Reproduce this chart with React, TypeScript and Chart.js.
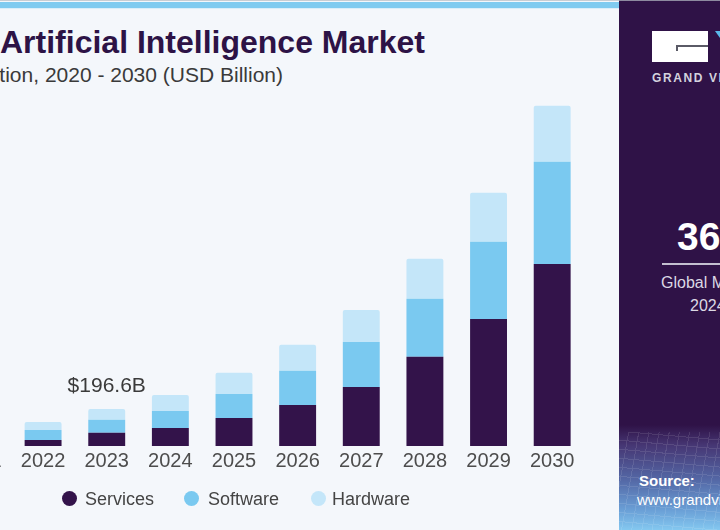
import React, { useEffect, useRef } from "react";
import { Chart, registerables } from "chart.js";

Chart.register(...registerables);

const years = ["2020", "2021", "2022", "2023", "2024", "2025", "2026", "2027", "2028", "2029", "2030"];
const services = [14, 22, 32, 70, 96, 149, 218, 313, 473, 674, 966];
const software = [26, 38, 53, 69, 90, 127, 181, 239, 308, 409, 542];
const hardware = [22, 33, 42, 57.6, 85, 112, 138, 170, 212, 260, 297];
const seriesNames = ["Services", "Software", "Hardware"];
const seriesColors = ["#33134a", "#7ac9f0", "#c4e6f9"];
const calloutIndex = 3;
const calloutText = "$196.6B";
const yMax = 2000;

const FONT = '"Liberation Sans", Arial, sans-serif';

const calloutPlugin = {
  id: "callout",
  afterDatasetsDraw(chart: any) {
    const meta = chart.getDatasetMeta(2);
    const bar = meta.data[calloutIndex];
    if (!bar) return;
    const ctx = chart.ctx;
    ctx.save();
    ctx.font = `21px ${FONT}`;
    ctx.fillStyle = "#3a3a3a";
    ctx.textAlign = "center";
    ctx.textBaseline = "middle";
    ctx.fillText(calloutText, bar.x, bar.y - 23);
    ctx.restore();
  },
};

function Text(props: { left?: number; right?: number; top: number; size: number; bold?: boolean; color: string; children: any; spacing?: number }) {
  const s: any = {
    position: "absolute",
    top: props.top,
    fontFamily: FONT,
    fontSize: props.size,
    fontWeight: props.bold ? 700 : 400,
    color: props.color,
    lineHeight: 1,
    whiteSpace: "nowrap",
    letterSpacing: props.spacing ? props.spacing : 0,
  };
  if (props.right !== undefined) {
    s.right = 720 - props.right;
    s.textAlign = "right";
  } else s.left = props.left;
  return <div style={s}>{props.children}</div>;
}

export default function App() {
  const ref = useRef<HTMLCanvasElement>(null);
  useEffect(() => {
    const chart = new Chart(ref.current!, {
      type: "bar",
      data: {
        labels: years,
        datasets: [services, software, hardware].map((d, i) => ({
          label: seriesNames[i],
          data: d,
          backgroundColor: seriesColors[i],
          barPercentage: 0.58,
          categoryPercentage: 1,
          borderRadius: i === 2 ? { topLeft: 2, topRight: 2, bottomLeft: 0, bottomRight: 0 } : 0,
          borderSkipped: false as any,
        })),
      },
      options: {
        responsive: false,
        maintainAspectRatio: false,
        animation: false,
        layout: { padding: { left: 0, right: 100, top: 69, bottom: 44 } },
        plugins: { legend: { display: false }, tooltip: { enabled: false } },
        scales: {
          x: {
            stacked: true,
            grid: { display: false, drawTicks: false },
            border: { display: false },
            ticks: { color: "#4d4d4d", font: { family: FONT, size: 20 }, padding: 3, maxRotation: 0, autoSkip: false },
            afterFit: (s: any) => {
              s.height = 40;
            },
          },
          y: { stacked: true, display: false, min: 0, max: yMax },
        },
      },
      plugins: [calloutPlugin],
    });
    return () => chart.destroy();
  }, []);

  const legendX = [62, 184, 311];
  const legendTextX = [85, 208, 332];

  return (
    <div style={{ position: "fixed", left: 0, top: 0, width: 720, height: 530, overflow: "hidden", background: "#f4f7fb" }}>
      <div style={{ position: "absolute", left: 0, top: 0, width: 620, height: 1, background: "#c9cdd3" }} />
      <div style={{ position: "absolute", left: 0, top: 2, width: 620, height: 6, background: "#80cbf0" }} />
      <div style={{ position: "absolute", left: 0, top: 8, width: 620, height: 1, background: "#dbeef9" }} />

      <Text right={425} top={26} size={32} bold color="#2d1346">Global Artificial Intelligence Market</Text>
      <Text right={283} top={64} size={21} color="#3a3a3a">size, by solution, 2020 - 2030 (USD Billion)</Text>

      <canvas ref={ref} width={800} height={530} style={{ position: "absolute", left: -116, top: 0, width: 800, height: 530 }} />

      {seriesNames.map((n, i) => (
        <React.Fragment key={n}>
          <div style={{ position: "absolute", left: legendX[i], top: 491, width: 15, height: 15, borderRadius: "50%", background: seriesColors[i] }} />
          <Text left={legendTextX[i]} top={490} size={18} color="#444">{n}</Text>
        </React.Fragment>
      ))}

      <div style={{ position: "absolute", left: 619, top: 0, width: 212, height: 530, background: "linear-gradient(to bottom, #2f1247 0px, #2f1247 425px, #463673 445px, #5468a6 480px, #6a9fd6 510px, #84c8f0 530px)" }} />
      <div style={{ position: "absolute", left: 619, top: 432, width: 212, height: 98, opacity: 0.1, background: "repeating-linear-gradient(100deg, transparent 0px, transparent 9px, #ffffff 9px, #ffffff 10px), repeating-linear-gradient(5deg, transparent 0px, transparent 8px, #ffffff 8px, #ffffff 9px)" }} />
      <div style={{ position: "absolute", left: 619, top: 0, width: 212, height: 1, background: "#8e8aa0" }} />

      <div style={{ position: "absolute", left: 652, top: 31, width: 56, height: 31, background: "#ffffff" }} />
      <div style={{ position: "absolute", left: 676, top: 45, width: 32, height: 2, background: "#5a5a66" }} />
      <div style={{ position: "absolute", left: 676, top: 45, width: 2, height: 6, background: "#5a5a66" }} />
      <div style={{ position: "absolute", left: 715, top: 31, width: 0, height: 0, borderLeft: "5px solid transparent", borderRight: "5px solid transparent", borderTop: "7px solid #5ab8ea" }} />
      <Text left={652} top={72} size={12} bold color="#d4d2de" spacing={1.6}>GRAND VIEW RESEARCH</Text>

      <Text left={677} top={217} size={39} bold color="#ffffff">36.6%</Text>
      <div style={{ position: "absolute", left: 662, top: 263, width: 126, height: 2, background: "#c4bfd0" }} />
      <Text left={661} top={275} size={16} color="#dcd8e4">Global Market CAGR,</Text>
      <Text left={690} top={298} size={16} color="#dcd8e4">2024 - 2030</Text>

      <Text left={639} top={473} size={15} bold color="#ffffff">Source:</Text>
      <Text left={637} top={492} size={15} color="#ffffff">www.grandviewresearch.com</Text>
    </div>
  );
}
